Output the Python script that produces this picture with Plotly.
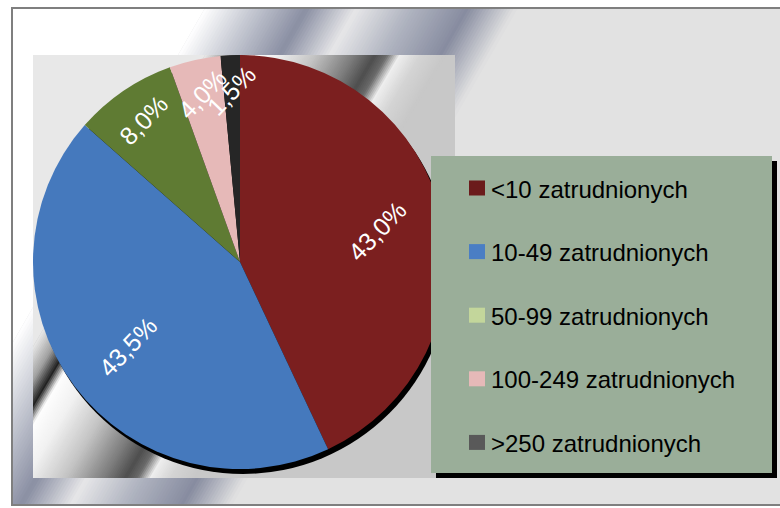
from __future__ import annotations

import math

import plotly.graph_objects as go


CATEGORIES = [
    "<10 zatrudnionych",
    "10-49 zatrudnionych",
    "50-99 zatrudnionych",
    "100-249 zatrudnionych",
    ">250 zatrudnionych",
]
SHARES = [43.0, 43.5, 8.0, 4.0, 1.5]

SLICE_COLORS = ["#7b1f1f", "#4579bd", "#5f7b33", "#e6b9b8", "#262626"]
SWATCH_COLORS = ["#6b1b1b", "#4a7ec4", "#c3d69b", "#e6b9b8", "#595959"]

W, H = 780, 508
CX, CY, R = 240, 262, 207  # pie centre and radius in pixels

# metallic bands: (offset in px, colour)
OUTER_STOPS = [
    (205, "#ffffff"), (250, "#c9ccd5"), (307, "#8a8fa3"), (357, "#e6e6e8"),
    (410, "#b1b5c1"), (468, "#878ca0"), (517, "#e2e2e2"),
]
INNER_STOPS = [
    (-170, "#e8e8e8"), (-150, "#a0a0a0"), (-135, "#222222"), (-124, "#fdfdfd"),
    (-100, "#f2f2f2"), (-60, "#c4c4c4"), (-20, "#7a7a7a"), (0, "#4e4e4e"),
    (12, "#6a6a6a"), (25, "#eeeeee"), (45, "#d4d4d4"), (70, "#c8c8c8"),
]


def _hex(c: str) -> tuple[int, int, int]:
    c = c.lstrip("#")
    return int(c[0:2], 16), int(c[2:4], 16), int(c[4:6], 16)


def _color_at(stops: list, u: float) -> str:
    for (u0, c0), (u1, c1) in zip(stops, stops[1:]):
        if u0 <= u <= u1:
            t = (u - u0) / (u1 - u0)
            a, b = _hex(c0), _hex(c1)
            return "rgb({},{},{})".format(*[round(p + (q - p) * t) for p, q in zip(a, b)])
    return stops[-1][1]


def _band(stops, x_top, y_top, y_bot, slope, ref, left, right, step=2) -> list[dict]:
    """Diagonal gradient band made of thin parallelograms."""
    xr, yr = ref
    d = (y_bot - y_top) * slope
    shapes = [
        dict(type="rect", x0=-2000, x1=2000, y0=y_top, y1=y_bot, fillcolor=right),
        dict(type="path", fillcolor=left,
             path=f"M-2000,{y_top} L{x_top + stops[0][0]},{y_top} "
                  f"L{x_top + stops[0][0] + d},{y_bot} L-2000,{y_bot} Z"),
    ]
    u = stops[0][0]
    while u < stops[-1][0]:
        xa, xb = x_top + u, x_top + u + step + 1
        shapes.append(dict(
            type="path", fillcolor=_color_at(stops, u + step / 2),
            path=f"M{xa},{y_top} L{xb},{y_top} L{xb + d},{y_bot} L{xa + d},{y_bot} Z",
        ))
        u += step
    for s in shapes:
        s.update(xref=xr, yref=yr, line_width=0, layer="below")
    return shapes


def _labels() -> list[dict]:
    notes, start = [], 0.0
    total = sum(SHARES)
    for share in SHARES:
        mid = (start + share / 2) / total * 2 * math.pi
        r = R * (0.68 if share / total > 0.2 else 0.83)
        notes.append(dict(
            x=CX + r * math.sin(mid), y=CY - r * math.cos(mid), xref="x", yref="y",
            text=f"{share:.1f}".replace(".", ",") + "%", showarrow=False, textangle=-46,
            font=dict(size=25, color="white"),
        ))
        start += share
    return notes


def _legend() -> tuple[list[dict], list[dict]]:
    shapes = [
        dict(type="rect", x0=436, x1=777, y0=161, y1=478, fillcolor="black"),
        dict(type="rect", x0=431, x1=772, y0=156, y1=473, fillcolor="#9aae99"),
    ]
    notes = []
    for i, (name, color) in enumerate(zip(CATEGORIES, SWATCH_COLORS)):
        y = 188 + i * 63.6
        shapes.append(dict(type="rect", x0=469, x1=485, y0=y - 7.5, y1=y + 7.5, fillcolor=color))
        notes.append(dict(x=489, y=y + 1, xref="x", yref="y", xanchor="left", yanchor="middle",
                          text=name, showarrow=False, font=dict(size=24, color="black")))
    for s in shapes:
        s.update(xref="x", yref="y", line_width=0, layer="above")
    return shapes, notes


def pie_chart() -> go.Figure:
    fig = go.Figure(go.Pie(
        labels=CATEGORIES,
        values=SHARES,
        sort=False,
        direction="clockwise",
        rotation=0,
        marker=dict(colors=SLICE_COLORS, line=dict(width=0)),
        textinfo="none",
        showlegend=False,
        domain=dict(x=[(CX - R) / W, (CX + R) / W], y=[1 - (CY + R) / H, 1 - (CY - R) / H]),
    ))
    shapes = _band(OUTER_STOPS, 0, 8, 505, -0.575, ("x", "y"), "#ffffff", "#e2e2e2", step=3)
    shapes += _band(INNER_STOPS, 375, 55, 478, -0.59, ("x2", "y2"), "#e8e8e8", "#c8c8c8")
    shapes.append(dict(type="circle", xref="x2", yref="y2", x0=CX - R + 3, x1=CX + R + 3,
                       y0=CY - R + 5, y1=CY + R + 5, fillcolor="black", line_width=0, layer="below"))
    legend_shapes, legend_notes = _legend()
    shapes += legend_shapes
    shapes.append(dict(type="rect", xref="paper", yref="paper", x0=12 / W, x1=1.05,
                       y0=1 - 505 / H, y1=1 - 8 / H, line=dict(color="#7f7f7f", width=2), layer="above"))
    fig.update_layout(
        shapes=shapes,
        annotations=_labels() + legend_notes,
        xaxis=dict(domain=[12 / W, 1], range=[12, 780], visible=False, fixedrange=True),
        yaxis=dict(domain=[1 - 505 / H, 1 - 8 / H], range=[505, 8], visible=False, fixedrange=True),
        xaxis2=dict(domain=[33 / W, 455 / W], range=[33, 455], anchor="y2", visible=False, fixedrange=True),
        yaxis2=dict(domain=[1 - 478 / H, 1 - 55 / H], range=[478, 55], anchor="x2", visible=False,
                    fixedrange=True),
    )
    return _style(fig)


def _style(fig: go.Figure) -> go.Figure:
    fig.update_layout(
        width=W,
        height=H,
        autosize=False,
        margin=dict(l=0, r=0, t=0, b=0),
        paper_bgcolor="white",
        plot_bgcolor="rgba(0,0,0,0)",
        font=dict(family="Arial, Liberation Sans", size=24, color="#000000"),
    )
    return fig


fig = pie_chart()
fig.write_html(
    "out.html",
    config={"displayModeBar": False},
    post_script="document.body.style.margin = '0';",  # no page margin
)
